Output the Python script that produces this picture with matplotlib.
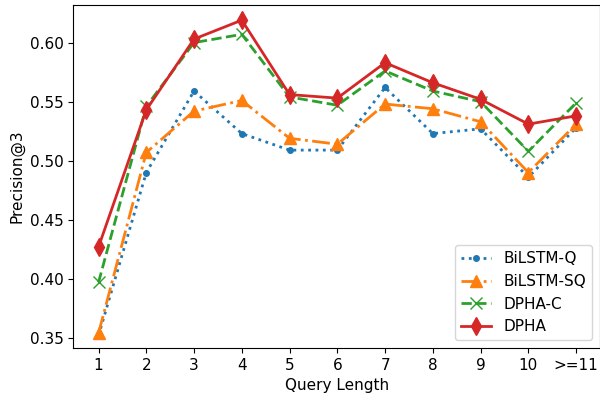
import numpy as np
import matplotlib
matplotlib.use('Agg')
import matplotlib.pyplot as plt

etiquetas = ['1', '2', '3', '4', '5', '6', '7', '8', '9', '10', '>=11']
bilstm_q = [0.352, 0.490, 0.559, 0.523, 0.509, 0.509, 0.562, 0.523, 0.527, 0.486, 0.528]
bilstm_sq = [0.354, 0.507, 0.542, 0.551, 0.519, 0.514, 0.548, 0.544, 0.533, 0.490, 0.531]
dpha_c = [0.397, 0.546, 0.600, 0.607, 0.554, 0.547, 0.576, 0.559, 0.550, 0.508, 0.549]
dpha = [0.427, 0.543, 0.603, 0.619, 0.556, 0.553, 0.583, 0.566, 0.552, 0.531, 0.538]

x = np.arange(1, len(etiquetas) + 1)

plt.rcParams['font.size'] = 11

fig, ax = plt.subplots(figsize=(6, 4), dpi=100)
ax.plot(x, bilstm_q, ':', marker='.', color='tab:blue', lw=2, ms=8, label='BiLSTM-Q')
ax.plot(x, bilstm_sq, '-.', marker='^', color='tab:orange', lw=2, ms=8, label='BiLSTM-SQ')
ax.plot(x, dpha_c, '--', marker='x', color='tab:green', lw=2, ms=8, label='DPHA-C')
ax.plot(x, dpha, '-', marker='d', color='tab:red', lw=2, ms=9, label='DPHA')

ax.set_xticks(x)
ax.set_xticklabels(etiquetas)
ax.set_xlim(0.47, 11.5)
ax.set_ylim(0.3415, 0.632)
ax.set_xlabel('Query Length')
ax.set_ylabel('Precision@3')
ax.legend(loc='lower right')

plt.subplots_adjust(left=0.122, right=1.0, top=0.988, bottom=0.13)
plt.savefig('out.png', dpi=100)
